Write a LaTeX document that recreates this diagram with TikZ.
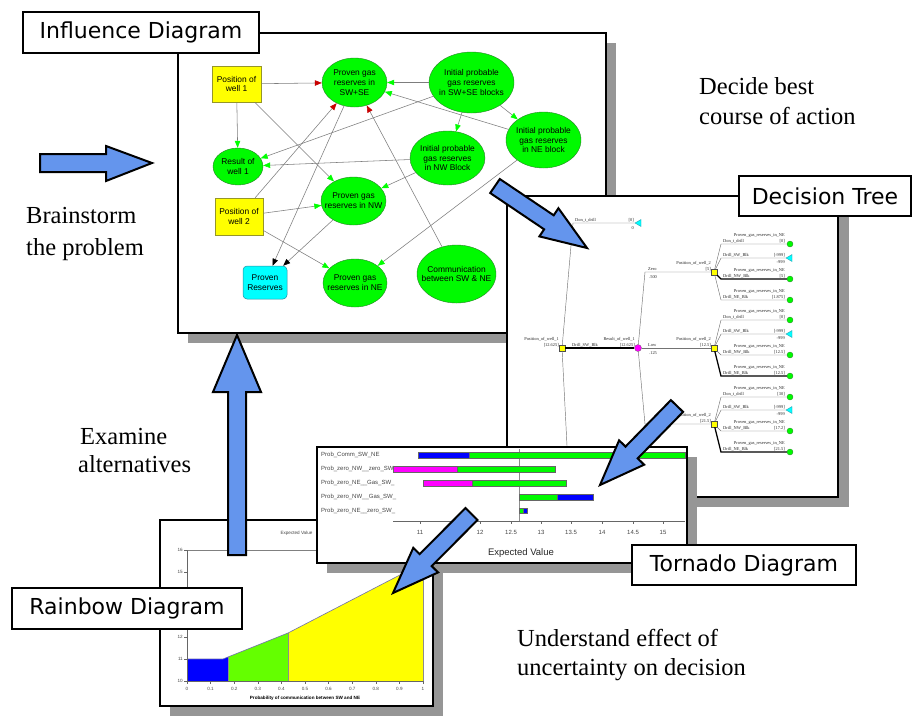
\documentclass[tikz,border=0pt]{standalone}
\usepackage{fontspec}
\setmainfont{Liberation Serif}
\newfontfamily\verdanafont{DejaVu Sans}
\newfontfamily\arialfont{Liberation Sans}
\usetikzlibrary{arrows.meta,shapes.geometric}

\definecolor{arrowblue}{RGB}{100,149,237}
\definecolor{shadowgray}{RGB}{150,150,150}
\definecolor{ngreen}{RGB}{0,250,0}
\definecolor{ngreenline}{RGB}{40,130,40}
\definecolor{nyellow}{RGB}{255,255,0}
\definecolor{nyellowline}{RGB}{150,150,40}
\definecolor{ncyan}{RGB}{0,255,255}
\definecolor{ncyanline}{RGB}{40,140,160}
\definecolor{edgegray}{RGB}{125,125,125}
\definecolor{tipred}{RGB}{200,0,0}
\definecolor{tipgreen}{RGB}{0,255,0}
\definecolor{cmagenta}{RGB}{255,0,255}
\definecolor{cblue}{RGB}{0,0,255}
\definecolor{rgreen}{RGB}{100,255,0}
\definecolor{ryellow}{RGB}{255,255,0}
\definecolor{textgray}{RGB}{70,70,70}

% influence-diagram node: shape box plus a separate text node
\newcommand\inode[6]{%
  \node[#1, minimum width=#4, minimum height=#5] (#2) at (#3) {};
  \node[ntext] (#2-t) at (#2) {#6};
}
% decision-tree branch ending in a chance node
\newcommand\outcome[6]{%
  \node[endchance] (#3) at (790,#2) {};
  \draw[dtline,#6] (#1) -- (721,#2) -- (#3);
  \node[dttext,anchor=base west] (#3-b) at (723,#2-1.5) {#4};
  \node[dttext,anchor=base east] (#3-v) at (785,#2-1.5) {#5};
  \node[dttext,anchor=base east] (#3-p) at (785,#2-7.5) {Proven\_gas\_reserves\_in\_NE};
}
% decision-tree branch ending in a payoff
\newcommand\payoff[3]{%
  \node[endleaf] (#3) at (790,#2) {};
  \draw[dtline] (#1) -- (721,#2) -- (#3);
  \node[dttext,anchor=base west] (#3-b) at (723,#2-1.5) {Drill\_SW\_Blk};
  \node[dttext,anchor=base east] (#3-v) at (785,#2-1.5) {[-999]};
  \node[dttext,anchor=base east] (#3-w) at (785,#2+5) {-999};
}

\begin{document}
\begin{tikzpicture}[x=1pt,y=-1pt,
  panel/.style={fill=white, draw=black, line width=2.2pt},
  pshadow/.style={fill=shadowgray},
  labelbox/.style={draw=black, fill=white, line width=1.8pt, inner sep=0pt,
    font=\verdanafont\fontsize{22}{24}\selectfont},
  barrow/.style={fill=arrowblue, draw=black, line width=2pt, line join=miter},
  bigtext/.style={inner sep=0pt, font=\fontsize{24.5}{29}\selectfont},
  ntext/.style={inner sep=0pt, align=center, font=\arialfont\fontsize{8.4}{9.8}\selectfont},
  ellnode/.style={ellipse, inner sep=0pt, fill=ngreen, draw=ngreenline, line width=0.4pt},
  decnode/.style={rectangle, inner sep=0pt, fill=nyellow, draw=nyellowline, line width=0.5pt},
  valnode/.style={rectangle, rounded corners=4pt, inner sep=0pt, fill=ncyan, draw=ncyanline, line width=0.5pt},
  iedge/.style={draw=edgegray, line width=0.55pt},
  ga/.style={-{Triangle[length=7pt,width=5.5pt,color=tipgreen]}},
  ra/.style={-{Triangle[length=7pt,width=5.5pt,color=tipred]}},
  ka/.style={-{Triangle[length=7pt,width=5.5pt,color=black]}},
  dttext/.style={inner sep=0pt, font=\fontsize{4.4}{5}\selectfont, text=black!85},
  dtline/.style={draw=black!55, line width=0.45pt},
  dtbold/.style={draw=black, line width=1.3pt},
  dsq/.style={rectangle, minimum size=6pt, inner sep=0pt, fill=nyellow, draw=black!70, line width=0.4pt},
  dchance/.style={circle, minimum size=7pt, inner sep=0pt, fill=cmagenta, draw=black!60, line width=0.3pt},
  endchance/.style={circle, minimum size=6pt, inner sep=0pt, fill=ngreen, draw=ngreenline, line width=0.3pt},
  endleaf/.style={isosceles triangle, shape border rotate=180, isosceles triangle stretches,
    minimum width=7pt, minimum height=6pt, inner sep=0pt, fill=ncyan, draw=ncyanline, line width=0.3pt},
  tlab/.style={inner sep=0pt, font=\arialfont\fontsize{6}{7}\selectfont, text=textgray},
  bar/.style={draw=black!60, line width=0.3pt},
  rtick/.style={inner sep=0pt, font=\arialfont\fontsize{4.6}{5}\selectfont, text=textgray},
]
\useasboundingbox (0,0) rectangle (912,716);
\fill[white] (0,0) rectangle (912,716);

%% ---------------- Influence diagram panel ----------------
\fill[pshadow] (188,43) rectangle (616,343);
\draw[panel] (178,33) rectangle (606,333);

\inode{decnode}{pw1}{236.5,84}{49}{36}{Position of\\well 1}
\inode{ellnode}{psw}{354.5,82.5}{65}{49}{Proven gas\\reserves in\\SW+SE}
\inode{ellnode}{rw1}{238,166.5}{50}{37}{Result of\\well 1}
\inode{ellnode}{pnw}{353.5,201}{65}{48}{Proven gas\\reserves in NW}
\inode{decnode}{pw2}{239,216.5}{48}{37}{Position of\\well 2}
\inode{valnode}{prv}{265,282.5}{44}{33}{Proven\\Reserves}
\inode{ellnode}{pne}{355,283}{64}{48}{Proven gas\\reserves in NE}
\inode{ellnode}{isw}{471.5,82.5}{85}{61}{Initial probable\\gas reserves\\in SW+SE blocks}
\inode{ellnode}{ine}{543.5,140}{75}{56}{Initial probable\\gas reserves\\in NE block}
\inode{ellnode}{inw}{447.5,158}{75}{54}{Initial probable\\gas reserves\\in NW Block}
\inode{ellnode}{com}{456.5,274}{79}{58}{Communication\\between SW \& NE}

\draw[iedge,ra] (pw1) -- (psw);
\draw[iedge,ga] (pw1) -- (rw1);
\draw[iedge,ga] (pw1) -- (pnw);
\draw[iedge,ra] (pw2) -- (psw);
\draw[iedge,ga] (pw2) -- (pnw);
\draw[iedge,ga] (pw2) -- (pne);
\draw[iedge,ka] (psw) -- (prv);
\draw[iedge,ka] (pnw) -- (prv);
\draw[iedge,ga] (isw) -- (psw);
\draw[iedge,ga] (ine) -- (psw);
\draw[iedge,ga] (isw) -- (rw1);
\draw[iedge,ga] (inw) -- (rw1);
\draw[iedge,ga] (inw) -- (pnw);
\draw[iedge,ga] (isw) -- (inw);
\draw[iedge,ga] (isw) -- (ine);
\draw[iedge,ga] (ine) -- (pne);
\draw[iedge,ra] (com) -- (psw);

%% ---------------- Decision tree panel ----------------
\fill[pshadow] (517,206) rectangle (849,507);
\draw[panel] (507,196) rectangle (838,497);

\node[dsq] (d0) at (562,348) {};
\node[dchance] (c0) at (638,348) {};
\node[dsq] (dA) at (714,272) {};
\node[dsq] (dB) at (714,348) {};
\node[dsq] (dC) at (714,424) {};
\node[endleaf] (t0) at (639,223) {};
\coordinate (d0low) at (569,485);

\draw[dtline] (d0) -- (573,223) -- (t0);
\draw[dtbold] (d0) -- (c0);
\draw[dtline] (d0) -- (d0low);
\draw[dtline] (c0) -- (645,272) -- (dA);
\draw[dtline] (c0) -- (dB);
\draw[dtline] (c0) -- (645,424) -- (dC);

\node[dttext,anchor=base east] (d0-n) at (559,340.5) {Position\_of\_well\_1};
\node[dttext,anchor=base east] (d0-v) at (559,346.5) {[12.625]};
\node[dttext,anchor=base west] (t0-b) at (575,221.5) {Don\_t\_drill};
\node[dttext,anchor=base east] (t0-v) at (634,221.5) {[0]};
\node[dttext,anchor=base east] (t0-w) at (634,229) {0};
\node[dttext,anchor=base west] (c0-b) at (572,346.5) {Drill\_SW\_Blk};
\node[dttext,anchor=base east] (c0-n) at (635,340.5) {Result\_of\_well\_1};
\node[dttext,anchor=base east] (c0-v) at (635,346.5) {[12.625]};
\node[dttext,anchor=base west] (dA-b) at (648,270.5) {Zero};
\node[dttext,anchor=base west] (dA-p) at (649,278) {.500};
\node[dttext,anchor=base west] (dB-b) at (648,346.5) {Low};
\node[dttext,anchor=base west] (dB-p) at (649,354) {.125};
\node[dttext,anchor=base east] (dA-n) at (711,264.5) {Position\_of\_well\_2};
\node[dttext,anchor=base east] (dA-v) at (711,270.5) {[5]};
\node[dttext,anchor=base east] (dB-n) at (711,340.5) {Position\_of\_well\_2};
\node[dttext,anchor=base east] (dB-v) at (711,346.5) {[12.5]};
\node[dttext,anchor=base east] (dC-n) at (711,416.5) {Position\_of\_well\_2};
\node[dttext,anchor=base east] (dC-v) at (711,422.5) {[21.5]};

\outcome{dA}{244}{a1}{Don\_t\_drill}{[0]}{}
\payoff{dA}{258}{a2}
\outcome{dA}{279}{a3}{Drill\_NW\_Blk}{[5]}{dtbold}
\outcome{dA}{300}{a4}{Drill\_NE\_Blk}{[1.875]}{}
\outcome{dB}{320}{b1}{Don\_t\_drill}{[0]}{}
\payoff{dB}{334}{b2}
\outcome{dB}{355}{b3}{Drill\_NW\_Blk}{[12.5]}{}
\outcome{dB}{376}{b4}{Drill\_NE\_Blk}{[12.5]}{dtbold}
\outcome{dC}{397}{e1}{Don\_t\_drill}{[30]}{}
\payoff{dC}{410}{e2}
\outcome{dC}{431}{e3}{Drill\_NW\_Blk}{[17.2]}{}
\outcome{dC}{452}{e4}{Drill\_NE\_Blk}{[21.5]}{dtbold}

%% ---------------- Rainbow diagram panel ----------------
\fill[pshadow] (170,530) rectangle (443,716);
\draw[panel] (160,520) rectangle (433,706);

\node[rtick] (rb-title) at (296.5,533) {Expected Value};
\fill[cblue] (187,681) -- (187,659) -- (223,659) -- (228,657) -- (228,681) -- cycle;
\fill[rgreen] (228,681) -- (228,657) -- (288,633) -- (288,681) -- cycle;
\fill[ryellow] (288,681) -- (288,633) -- (423,563) -- (423,681) -- cycle;
\draw[draw=black!45, line width=0.4pt] (228,657) -- (228,681) (288,633) -- (288,681) (423,563) -- (423,681);
\draw[draw={rgb,255:red,110;green,110;blue,170}, line width=0.6pt]
  (187,659) -- (223,659) -- (228,657) -- (288,633) -- (423,563);
\draw[draw=black!50, line width=0.5pt] (187,550) -- (423,550);
\draw[draw=black!60, line width=0.5pt] (187,550) -- (187,681) -- (423,681);
\foreach \yy in {594,616} {
  \draw[draw=black!60, line width=0.4pt] (184,\yy) -- (187,\yy);
}
\foreach \v/\yy in {16/550,15/572,12/637,11/659,10/681} {
  \draw[draw=black!60, line width=0.4pt] (184,\yy) -- (187,\yy);
  \node[rtick, anchor=east] (ry\v) at (183,\yy) {\v};
}
\foreach \i/\lab in {0/0,1/0.1,2/0.2,3/0.3,4/0.4,5/0.5,6/0.6,7/0.7,8/0.8,9/0.9,10/1} {
  \draw[draw=black!60, line width=0.4pt] (187+23.6*\i,681) -- (187+23.6*\i,684);
  \node[rtick] (rx\i) at (187+23.6*\i,689) {\lab};
}
\node[rtick, font=\arialfont\bfseries\fontsize{4.6}{5}\selectfont, text=black] (rb-xt) at (305,698)
  {Probability of communication between SW and NE};

%% ---------------- Tornado diagram panel ----------------
\fill[pshadow] (327,457) rectangle (697,573);
\draw[panel] (317,447) rectangle (687,563);

\node[tlab, anchor=west] (tl1) at (321,455) {Prob\_Comm\_SW\_NE};
\node[tlab, anchor=west] (tl2) at (321,469) {Prob\_zero\_NW\_\_zero\_SW\_};
\node[tlab, anchor=west] (tl3) at (321,483) {Prob\_zero\_NE\_\_Gas\_SW\_};
\node[tlab, anchor=west] (tl4) at (321,497) {Prob\_zero\_NW\_\_Gas\_SW\_};
\node[tlab, anchor=west] (tl5) at (321,511) {Prob\_zero\_NE\_\_zero\_SW\_};

\draw[draw=black!45, line width=0.6pt] (519,449) -- (519,521);
\draw[bar, fill=cblue] (418,452) rectangle (469,458);
\draw[bar, fill=ngreen] (469,452) rectangle (685,458);
\draw[bar, fill=cmagenta] (393,466) rectangle (457,472);
\draw[bar, fill=ngreen] (457,466) rectangle (555,472);
\draw[bar, fill=cmagenta] (423,480) rectangle (472,486);
\draw[bar, fill=ngreen] (472,480) rectangle (566,486);
\draw[bar, fill=ngreen] (519,494) rectangle (557,500);
\draw[bar, fill=cblue] (557,494) rectangle (593,500);
\draw[bar, fill=ngreen] (519,508) rectangle (523,513);
\draw[bar, fill=cblue] (523,508) rectangle (527,513);

\draw[draw=black!60, line width=0.5pt] (393,521) -- (685,521);
\foreach \i/\xx/\lab in {1/420/11,2/450/11.5,3/480/12,4/511/12.5,5/541/13,6/571/13.5,7/602/14,8/633/14.5,9/663/15} {
  \draw[draw=black!60, line width=0.5pt] (\xx,521) -- (\xx,524);
  \node[tlab] (tx\i) at (\xx,532) {\lab};
}
\node[inner sep=0pt, font=\arialfont\fontsize{9.5}{11}\selectfont, text=black!85] (tn-xt) at (521,553) {Expected Value};

%% ---------------- Title boxes ----------------
\node[labelbox, minimum width=236, minimum height=41] (lb-infl) at (141,32.5) {Influence Diagram};
\node[labelbox, minimum width=172, minimum height=40] (lb-tree) at (825,196) {Decision Tree};
\node[labelbox, minimum width=224, minimum height=40] (lb-torn) at (744,565) {Tornado Diagram};
\node[labelbox, minimum width=230, minimum height=41] (lb-rain) at (127,608.5) {Rainbow Diagram};

%% ---------------- Captions ----------------
\node[bigtext, anchor=base west] (cap-b1) at (26,223) {Brainstorm};
\node[bigtext, anchor=base west] (cap-b2) at (26,255) {the problem};
\node[bigtext, anchor=base west] (cap-d1) at (699,94) {Decide best};
\node[bigtext, anchor=base west] (cap-d2) at (699,124) {course of action};
\node[bigtext, anchor=base west] (cap-e1) at (80,444) {Examine};
\node[bigtext, anchor=base west] (cap-e2) at (78,472) {alternatives};
\node[bigtext, anchor=base west] (cap-u1) at (517,646) {Understand effect of};
\node[bigtext, anchor=base west] (cap-u2) at (517,675) {uncertainty on decision};

%% ---------------- Flow arrows ----------------
\draw[barrow] (40,154) -- (106,154) -- (106,146) -- (152,163) -- (106,181) -- (106,172) -- (40,172) -- cycle;
\draw[barrow] (490.2,193) -- (544.1,229.3) -- (539.4,236.4) -- (587,248) -- (558.4,208.2) -- (553.7,215.3) -- (499.8,179) -- cycle;
\draw[barrow] (670.9,400.1) -- (625.5,446.6) -- (619.1,440.3) -- (600,485) -- (644.1,464.7) -- (637.7,458.4) -- (683.1,411.9) -- cycle;
\draw[barrow] (465.5,508) -- (419.7,554.1) -- (413.3,547.8) -- (393,593) -- (438.1,572.4) -- (431.7,566.1) -- (477.5,520) -- cycle;
\draw[barrow] (228,555) -- (228,392) -- (213,392) -- (237,335) -- (261,392) -- (246,392) -- (246,555) -- cycle;
\end{tikzpicture}
\end{document}
